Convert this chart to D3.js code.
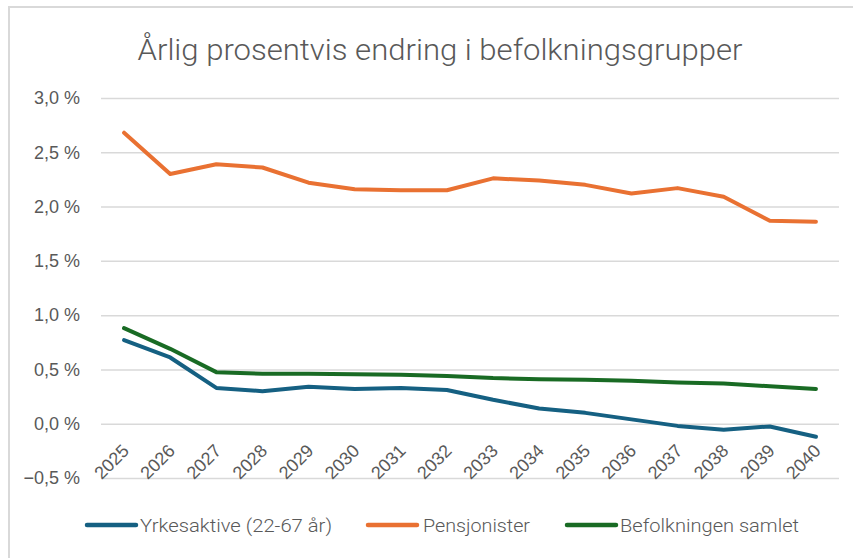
<!DOCTYPE html>
<html>
<head>
<meta charset="utf-8">
<script src="https://cdn.jsdelivr.net/npm/d3@7/dist/d3.min.js"></script>
<style>
  html, body { margin: 0; padding: 0; background: #fff; }
  svg { display: block; }
</style>
</head>
<body>
<div id="chart"></div>
<script>
const years = ['2025','2026','2027','2028','2029','2030','2031','2032','2033','2034','2035','2036','2037','2038','2039','2040'];
const yrkesaktive = [0.77, 0.61, 0.33, 0.30, 0.34, 0.32, 0.33, 0.31, 0.22, 0.14, 0.10, 0.04, -0.02, -0.055, -0.025, -0.12];
const pensjonister = [2.68, 2.30, 2.39, 2.36, 2.22, 2.16, 2.15, 2.15, 2.26, 2.24, 2.20, 2.12, 2.17, 2.09, 1.87, 1.86];
const befolkningen = [0.88, 0.69, 0.475, 0.46, 0.46, 0.455, 0.45, 0.44, 0.42, 0.41, 0.405, 0.395, 0.38, 0.37, 0.345, 0.32];
const yTicks = [-0.5, 0, 0.5, 1.0, 1.5, 2.0, 2.5, 3.0];

const series = [
  {name: 'Yrkesaktive (22-67 år)', values: yrkesaktive, color: '#156082'},
  {name: 'Pensjonister', values: pensjonister, color: '#E97132'},
  {name: 'Befolkningen samlet', values: befolkningen, color: '#196B24'}
];

const W = 853, H = 558;
const textColor = '#595959';
const gridColor = '#d9d9d9';

const svg = d3.select('#chart').append('svg')
  .attr('width', W).attr('height', H);

// chart frame
svg.append('rect')
  .attr('x', 9).attr('y', 7)
  .attr('width', W + 20).attr('height', H + 20)
  .attr('fill', '#fff')
  .attr('stroke', gridColor).attr('stroke-width', 2);

// title
svg.append('text')
  .attr('x', 440).attr('y', 60)
  .attr('text-anchor', 'middle')
  .attr('font-family', 'Roboto, "Liberation Sans", sans-serif')
  .attr('font-size', 30)
  .attr('font-weight', 300)
  .attr('fill', textColor)
  .attr('textLength', 605)
  .attr('lengthAdjust', 'spacingAndGlyphs')
  .text('Årlig prosentvis endring i befolkningsgrupper');

const x = d3.scalePoint().domain(years).range([101, 839]).padding(0.5);
const y = d3.scaleLinear().domain([-0.5, 3.0]).range([478, 98]);

// gridlines + y labels
const yAxis = svg.append('g')
  .attr('transform', 'translate(101,0)')
  .call(d3.axisLeft(y).tickValues(yTicks)
    .tickSize(-738).tickPadding(21)
    .tickFormat(d => d3.format('.1f')(d).replace('.', ',') + ' %'));
yAxis.select('.domain').remove();
yAxis.selectAll('.tick line').attr('stroke', gridColor).attr('stroke-width', 1.5);
yAxis.selectAll('.tick text')
  .attr('fill', textColor)
  .attr('font-family', '"Liberation Sans", Arial, sans-serif')
  .attr('font-size', 18);

// x labels, rotated
svg.append('g').selectAll('text')
  .data(years)
  .join('text')
  .attr('transform', d => `translate(${x(d) + 6},${452}) rotate(-45)`)
  .attr('text-anchor', 'end')
  .attr('font-family', '"Liberation Sans", Arial, sans-serif')
  .attr('font-size', 18)
  .attr('fill', textColor)
  .text(d => d);

// lines
const line = d3.line()
  .x((d, i) => x(years[i]))
  .y(d => y(d));

svg.append('g').selectAll('path')
  .data(series)
  .join('path')
  .attr('d', d => line(d.values))
  .attr('fill', 'none')
  .attr('stroke', d => d.color)
  .attr('stroke-width', 4)
  .attr('stroke-linejoin', 'round')
  .attr('stroke-linecap', 'round');

// legend
const legendPos = [
  {lx: 85, tx: 140, tw: 192},
  {lx: 366, tx: 423, tw: 107},
  {lx: 565, tx: 620, tw: 179}
];
const legend = svg.append('g').selectAll('g')
  .data(series)
  .join('g');
legend.append('line')
  .attr('x1', (d, i) => legendPos[i].lx + 2)
  .attr('x2', (d, i) => legendPos[i].lx + 51)
  .attr('y1', 525).attr('y2', 525)
  .attr('stroke', d => d.color)
  .attr('stroke-width', 4.5)
  .attr('stroke-linecap', 'round');
legend.append('text')
  .attr('x', (d, i) => legendPos[i].tx)
  .attr('y', 532)
  .attr('font-family', 'Roboto, "Liberation Sans", sans-serif')
  .attr('font-size', 19)
  .attr('font-weight', 300)
  .attr('fill', textColor)
  .attr('textLength', (d, i) => legendPos[i].tw)
  .attr('lengthAdjust', 'spacingAndGlyphs')
  .text(d => d.name);
</script>
</body>
</html>
